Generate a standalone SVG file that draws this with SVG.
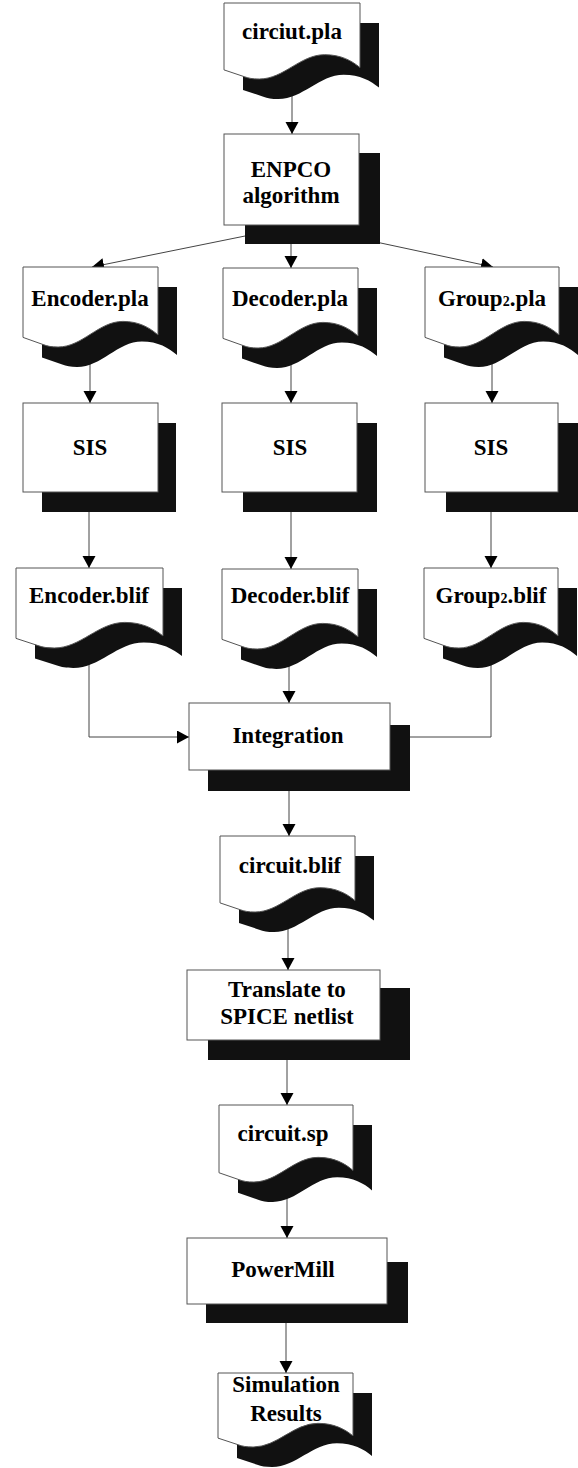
<svg xmlns="http://www.w3.org/2000/svg" width="578" height="1468" viewBox="0 0 578 1468">
<style>
.sh{fill:#111;stroke:none}
.nd{fill:#fff;stroke:#555;stroke-width:1}
.t{font-family:"Liberation Serif","Times New Roman",serif;font-weight:bold;font-size:23px;fill:#000;text-anchor:middle}
.c{fill:none;stroke:#444;stroke-width:1}
</style>
<defs>
<marker id="ah" markerUnits="userSpaceOnUse" markerWidth="13" markerHeight="14" refX="12" refY="6.5" orient="auto">
<path d="M0,0 L12,6.5 L0,13 Z" fill="#000"/>
</marker>
<path id="doc" d="M0,0 H100 V85 C94,76 86,68 74,68 C56,68 44,100 26,100 C21,100 18,99 15,97 L0,88 Z" vector-effect="non-scaling-stroke"/>
</defs>
<rect width="578" height="1468" fill="#fff"/>
<g id="connectors" class="c" marker-end="url(#ah)">
<line x1="292" y1="90" x2="292" y2="134"/>
<line x1="250" y1="235" x2="92" y2="267"/>
<line x1="291" y1="240" x2="291" y2="268"/>
<line x1="376" y1="242" x2="493" y2="267"/>
<line x1="90" y1="355" x2="90" y2="403"/>
<line x1="291" y1="355" x2="291" y2="403"/>
<line x1="492" y1="355" x2="492" y2="403"/>
<line x1="89" y1="505" x2="89" y2="568"/>
<line x1="291" y1="505" x2="291" y2="569"/>
<line x1="491" y1="505" x2="491" y2="568"/>
<polyline points="89,650 89,737 189,737"/>
<line x1="289" y1="655" x2="289" y2="703"/>
<polyline points="491,650 491,737 390,737"/>
<line x1="289" y1="780" x2="289" y2="836"/>
<line x1="288" y1="900" x2="288" y2="970"/>
<line x1="287" y1="1050" x2="287" y2="1105"/>
<line x1="287" y1="1170" x2="287" y2="1238"/>
<line x1="286" y1="1315" x2="286" y2="1373"/>
</g>
<g id="n-circuit-pla">
<use href="#doc" class="sh" transform="translate(243,23) scale(1.36,0.76)"/>
<use href="#doc" class="nd" transform="translate(224,3) scale(1.36,0.76)"/>
<text class="t" x="292" y="39">circiut.pla</text>
</g>
<g id="n-enpco">
<rect class="sh" x="245" y="153" width="135" height="91"/>
<rect class="nd" x="224" y="134" width="135" height="91"/>
<text class="t" x="291" y="177">ENPCO</text>
<text class="t" x="291" y="203">algorithm</text>
</g>
<g id="n-encoder-pla">
<use href="#doc" class="sh" transform="translate(42,287) scale(1.35,0.8)"/>
<use href="#doc" class="nd" transform="translate(23,267) scale(1.35,0.8)"/>
<text class="t" x="90" y="306">Encoder.pla</text>
</g>
<g id="n-decoder-pla">
<use href="#doc" class="sh" transform="translate(242,288) scale(1.35,0.8)"/>
<use href="#doc" class="nd" transform="translate(223,268) scale(1.35,0.8)"/>
<text class="t" x="290" y="306">Decoder.pla</text>
</g>
<g id="n-group2-pla">
<use href="#doc" class="sh" transform="translate(444,287) scale(1.34,0.8)"/>
<use href="#doc" class="nd" transform="translate(425,267) scale(1.34,0.8)"/>
<text class="t" x="492" y="306">Group<tspan font-size="14">2</tspan>.pla</text>
</g>
<g id="n-sis-1">
<rect class="sh" x="42" y="423" width="134" height="89"/>
<rect class="nd" x="23" y="403" width="135" height="89"/>
<text class="t" x="90" y="455">SIS</text>
</g>
<g id="n-sis-2">
<rect class="sh" x="243" y="423" width="134" height="89"/>
<rect class="nd" x="222" y="403" width="135" height="89"/>
<text class="t" x="290" y="455">SIS</text>
</g>
<g id="n-sis-3">
<rect class="sh" x="446" y="423" width="132" height="89"/>
<rect class="nd" x="425" y="403" width="133" height="89"/>
<text class="t" x="491" y="455">SIS</text>
</g>
<g id="n-encoder-blif">
<use href="#doc" class="sh" transform="translate(35,588) scale(1.47,0.8)"/>
<use href="#doc" class="nd" transform="translate(16,568) scale(1.47,0.8)"/>
<text class="t" x="89" y="603">Encoder.blif</text>
</g>
<g id="n-decoder-blif">
<use href="#doc" class="sh" transform="translate(241,589) scale(1.36,0.8)"/>
<use href="#doc" class="nd" transform="translate(222,569) scale(1.36,0.8)"/>
<text class="t" x="290" y="603">Decoder.blif</text>
</g>
<g id="n-group2-blif">
<use href="#doc" class="sh" transform="translate(443,588) scale(1.34,0.8)"/>
<use href="#doc" class="nd" transform="translate(424,568) scale(1.34,0.8)"/>
<text class="t" x="491" y="603">Group<tspan font-size="14">2</tspan>.blif</text>
</g>
<g id="n-integration">
<rect class="sh" x="208" y="725" width="202" height="66"/>
<rect class="nd" x="189" y="703" width="201" height="67"/>
<text class="t" x="288" y="743">Integration</text>
</g>
<g id="n-circuit-blif">
<use href="#doc" class="sh" transform="translate(239,856) scale(1.35,0.76)"/>
<use href="#doc" class="nd" transform="translate(220,836) scale(1.35,0.76)"/>
<text class="t" x="290" y="873">circuit.blif</text>
</g>
<g id="n-translate">
<rect class="sh" x="208" y="988" width="202" height="72"/>
<rect class="nd" x="187" y="970" width="193" height="70"/>
<text class="t" x="287" y="997">Translate to</text>
<text class="t" x="287" y="1024">SPICE netlist</text>
</g>
<g id="n-circuit-sp">
<use href="#doc" class="sh" transform="translate(238,1125) scale(1.34,0.77)"/>
<use href="#doc" class="nd" transform="translate(219,1105) scale(1.34,0.77)"/>
<text class="t" x="283" y="1141">circuit.sp</text>
</g>
<g id="n-powermill">
<rect class="sh" x="206" y="1262" width="202" height="61"/>
<rect class="nd" x="187" y="1238" width="200" height="66"/>
<text class="t" x="283" y="1277">PowerMill</text>
</g>
<g id="n-simulation">
<use href="#doc" class="sh" transform="translate(237,1393) scale(1.35,0.74)"/>
<use href="#doc" class="nd" transform="translate(218,1373) scale(1.35,0.74)"/>
<text class="t" x="286" y="1392">Simulation</text>
<text class="t" x="286" y="1421">Results</text>
</g>
</svg>
